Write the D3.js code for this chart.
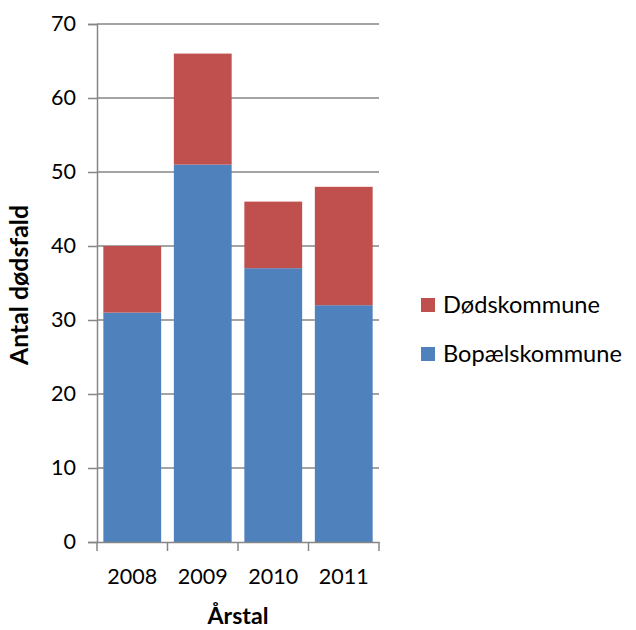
<!DOCTYPE html>
<html><head><meta charset="utf-8">
<script src="https://cdn.jsdelivr.net/npm/d3@7"></script>
<style>body{margin:0;background:#fff}svg{display:block}text{font-family:Lato,"Open Sans",sans-serif;fill:#000}</style>
</head><body>
<script>
const years = ["2008","2009","2010","2011"];
const bopael = [31, 51, 37, 32];
const doeds = [9, 15, 9, 16];
const seriesNames = ["Bopælskommune","Dødskommune"];
const seriesColors = ["#4F81BD","#C0504D"];
const yTicks = [0,10,20,30,40,50,60,70];

const W=636,H=630;
const svg=d3.select("body").append("svg").attr("width",W).attr("height",H);
const L=97,R=379,T=24,B=542;
const x=d3.scaleBand().domain(years).range([L,R]).paddingInner(0.18).paddingOuter(0.09);
const y=d3.scaleLinear().domain([0,70]).range([B,T]);

// fit font size so that a sample string has a target width
function fit(sel, sample, target){
  const t=svg.append("text").style("font-size","20px").style("font-weight",sel.style("font-weight")).text(sample);
  const w=t.node().getComputedTextLength(); t.remove();
  sel.style("font-size",(20*target/w).toFixed(2)+"px");
}

svg.append("g").selectAll("line").data(yTicks.filter(d=>d>0)).join("line")
 .attr("x1",L).attr("x2",R).attr("y1",d=>y(d)).attr("y2",d=>y(d))
 .attr("stroke","#868686").attr("stroke-width",1.5);

const data=years.map((yr,i)=>({year:yr,Bopælskommune:bopael[i],Dødskommune:doeds[i]}));
const stack=d3.stack().keys(seriesNames)(data);
svg.append("g").selectAll("g").data(stack).join("g").attr("fill",(d,i)=>seriesColors[i])
 .selectAll("rect").data(d=>d).join("rect")
 .attr("x",d=>x(d.data.year)).attr("width",x.bandwidth())
 .attr("y",d=>y(d[1])).attr("height",d=>y(d[0])-y(d[1]));

const ya=svg.append("g").attr("transform",`translate(${L},0)`)
 .call(d3.axisLeft(y).tickValues(yTicks).tickSize(9).tickPadding(12));
ya.select(".domain").attr("stroke","#868686").attr("stroke-width",1.5);
ya.selectAll(".tick line").attr("stroke","#868686").attr("stroke-width",1.5);
ya.selectAll("text").attr("fill","#000").call(fit,"2008",50);

const xa=svg.append("g").attr("transform",`translate(0,${B})`)
 .call(d3.axisBottom(x).tickSize(0).tickPadding(0));
xa.select(".domain").attr("stroke","#868686").attr("stroke-width",1.5);
xa.selectAll("text").attr("fill","#000").attr("dy",null).attr("y",42).call(fit,"2008",50);
const edges=[L].concat(years.slice(0,-1).map(d=>x(d)+x.bandwidth()+x.step()*x.paddingInner()/2)).concat([R]);
xa.selectAll(".edge").data(edges).join("line").attr("class","edge")
 .attr("x1",d=>d).attr("x2",d=>d).attr("y1",0).attr("y2",9)
 .attr("stroke","#868686").attr("stroke-width",1.5);

svg.append("text").attr("x",(L+R)/2).attr("y",624).attr("text-anchor","middle")
 .style("font-weight","bold").text("Årstal").call(function(s){fit(s,"Årstal",61);});
svg.append("text").attr("transform","translate(28,285) rotate(-90)").attr("text-anchor","middle")
 .style("font-weight","bold").text("Antal dødsfald").call(function(s){fit(s,"Antal dødsfald",160);});

const leg=[{n:"Dødskommune",c:"#C0504D",y:298},{n:"Bopælskommune",c:"#4F81BD",y:347}];
const lg=svg.append("g").selectAll("g").data(leg).join("g");
lg.append("rect").attr("x",421).attr("y",d=>d.y).attr("width",14).attr("height",14).attr("fill",d=>d.c);
lg.append("text").attr("x",443).attr("y",d=>d.y+15).text(d=>d.n).call(function(s){fit(s,"Dødskommune",157);});
</script>
</body></html>
